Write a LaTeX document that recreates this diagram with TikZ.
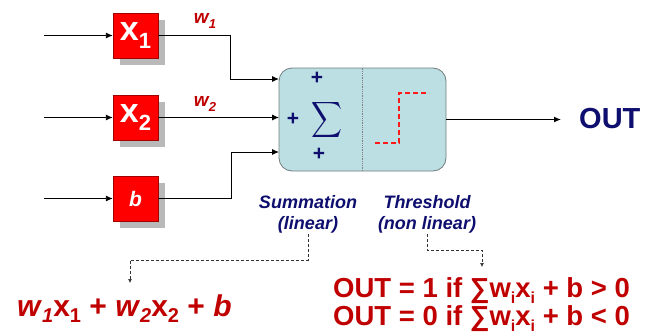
\documentclass[tikz,border=0pt]{standalone}
\usepackage{fontspec}
\usepackage{graphicx}
\setmainfont{Liberation Sans}
\usetikzlibrary{arrows.meta}
\definecolor{navy}{HTML}{0E0E6E}
\definecolor{dred}{HTML}{C00000}
\definecolor{boxred}{HTML}{FF0000}
\definecolor{boxedge}{HTML}{A00000}
\definecolor{cyanbox}{HTML}{BBDFE3}
\definecolor{cyanedge}{HTML}{707C7E}
\newcommand\fs[1]{\fontsize{#1}{#1}\selectfont}
\newcommand\sbs[2]{\raisebox{-0.22em}{\fs{#1}#2}}
\tikzset{
 inbox/.style={draw=boxedge, fill=boxred, minimum width=45pt, minimum height=45pt, inner sep=0pt, text=white, font=\bfseries},
 shadowbox/.style={draw=none, fill=gray!55, minimum width=45pt, minimum height=45pt, inner sep=0pt},
 arr/.style={-{Latex[length=7pt,width=6pt]}, line width=0.9pt},
 dasharr/.style={-{Latex[length=4pt,width=4pt]}, densely dashed, line width=0.7pt, black!80},
 lbl/.style={text=navy, font=\fontsize{18}{21}\selectfont\bfseries\itshape, align=center, inner sep=1pt},
 pm/.style={text=navy, font=\fs{21}\bfseries, inner sep=0pt},
 wlbl/.style={text=dred, font=\fs{19}\bfseries\itshape, inner sep=0pt},
 formula/.style={anchor=base west, text=dred, font=\bfseries, inner sep=0pt},
}
\begin{document}
\begin{tikzpicture}[x=1pt,y=-1pt]
\useasboundingbox (0,0) rectangle (648,335);
% shadows of the input boxes
\node[shadowbox] (x1s) at (142,42) {};
\node[shadowbox] (x2s) at (142,124) {};
\node[shadowbox] (bs) at (142,205) {};
% input boxes
\node[inbox] (x1) at (135.5,35.5) {\fs{34}x\sbs{22}{1}};
\node[inbox] (x2) at (135.5,117.5) {\fs{34}x\sbs{22}{2}};
\node[inbox] (b) at (135.5,198.5) {\fs{21}\itshape b};
\coordinate (i1) at (44,35.5);
\coordinate (i2) at (44,117.5);
\coordinate (i3) at (44,198.5);
\draw[arr] (i1) -- (x1);
\draw[arr] (i2) -- (x2);
\draw[arr] (i3) -- (b);
% main box
\node[draw=cyanedge, fill=cyanbox, rounded corners=13pt, minimum width=167pt, minimum height=103pt, line width=0.8pt] (sum) at (362.5,119.5) {};
\draw[densely dotted, gray, line width=0.8pt] (sum.north) -- (sum.south);
\coordinate (in1) at (279,79);
\coordinate (in2) at (279,117.5);
\coordinate (in3) at (279,152);
\draw[arr] (x1.east) -| (230,79) -- (in1);
\draw[arr] (x2.east) -- (in2);
\draw[arr] (b.east) -| (231,152) -- (in3);
\node[wlbl] (w1) at (205,21) {w\sbs{13}{1}};
\node[wlbl] (w2) at (205,104) {w\sbs{13}{2}};
% summation symbols
\node[pm] (p1) at (317,78) {+};
\node[pm] (p2) at (293,119) {+};
\node[pm] (p3) at (319,154) {+};
\node[text=navy, inner sep=0pt] (sig) at (327,120) {\resizebox*{31pt}{40pt}{$\displaystyle\sum$}};
% threshold step
\coordinate (s1) at (375,143);
\coordinate (s2) at (399,143);
\coordinate (s3) at (399,93);
\coordinate (s4) at (429,93);
\draw[red!90!white, dash pattern=on 5pt off 3pt, line width=1.3pt] (s1) -- (s2) -- (s3) -- (s4);
% output
\coordinate (o) at (561,119.5);
\draw[arr, line width=1.2pt] (sum.east) -- (o);
\node[anchor=west, text=navy, font=\fs{29}\bfseries, inner sep=0pt] (out) at (579,119) {OUT};
% labels
\node[lbl] (lsum) at (308,214) {Summation\\(linear)};
\node[lbl] (lthr) at (427,214) {Threshold\\(non linear)};
\coordinate (d3) at (130,260);
\coordinate (d4) at (130,283);
\draw[dasharr] (lsum.south) |- (d3) -- (d4);
\coordinate (e3) at (482,250);
\coordinate (e4) at (482,267);
\draw[dasharr] (lthr.south) |- (e3) -- (e4);
% formulas
\node[formula, font=\fs{30}\bfseries] (f1) at (17,316) {\textit{w}\sbs{20}{\textit{1}}x\sbs{20}{1} + \textit{w}\sbs{20}{\textit{2}}x\sbs{20}{2} + \textit{b}};
\node[formula, font=\fs{27.5}\bfseries] (f2) at (333,297) {OUT = 1 if ∑w\sbs{16}{i}x\sbs{16}{i} + b > 0};
\node[formula, font=\fs{27.5}\bfseries] (f3) at (333,325) {OUT = 0 if ∑w\sbs{16}{i}x\sbs{16}{i} + b < 0};
\end{tikzpicture}
\end{document}
